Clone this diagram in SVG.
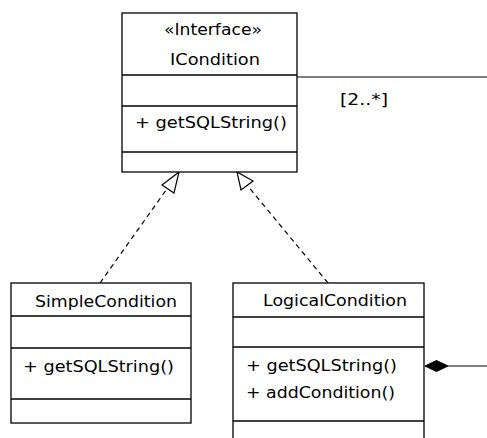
<svg xmlns="http://www.w3.org/2000/svg" width="487" height="438" viewBox="0 0 487 438">
<style>
.box{fill:#fff;stroke:#000;stroke-width:1.3}
.div{stroke:#000;stroke-width:1.3}
text{font-family:"DejaVu Sans","Liberation Sans",sans-serif;font-size:16.5px;fill:#000}
.c{text-anchor:middle}
.edge{fill:none;stroke:#000;stroke-width:1.2}
.dash{stroke-dasharray:5,4}
</style>
<rect width="487" height="438" fill="#fff"/>
<g id="connectors">
  <path class="edge" d="M297,77 H487"/>
  <text x="340" y="105" textLength="48" lengthAdjust="spacingAndGlyphs">[2..*]</text>
  <path class="edge" d="M448,366 H487"/>
  <polygon points="425,366 436.5,360.5 448,366 436.5,371.5" fill="#000" stroke="#000"/>
  <path class="edge dash" d="M100,283 L169,186"/>
  <polygon points="179,172 162,185 174,193" fill="#fff" stroke="#000" stroke-width="1.2"/>
  <path class="edge dash" d="M328,283 L247,185"/>
  <polygon points="237,172 241,190 253,181" fill="#fff" stroke="#000" stroke-width="1.2"/>
</g>
<g id="ICondition">
  <rect class="box" x="122" y="13" width="175" height="159"/>
  <line class="div" x1="122" y1="75" x2="297" y2="75"/>
  <line class="div" x1="122" y1="106" x2="297" y2="106"/>
  <line class="div" x1="122" y1="152" x2="297" y2="152"/>
  <text x="164" y="35" textLength="98" lengthAdjust="spacingAndGlyphs">«Interface»</text>
  <text x="170" y="65" textLength="90" lengthAdjust="spacingAndGlyphs">ICondition</text>
  <text x="135" y="128" textLength="152" lengthAdjust="spacingAndGlyphs">+ getSQLString()</text>
</g>
<g id="SimpleCondition">
  <rect class="box" x="11" y="283" width="180" height="140"/>
  <line class="div" x1="11" y1="316" x2="191" y2="316"/>
  <line class="div" x1="11" y1="348" x2="191" y2="348"/>
  <line class="div" x1="11" y1="399" x2="191" y2="399"/>
  <text x="35" y="307" textLength="142" lengthAdjust="spacingAndGlyphs">SimpleCondition</text>
  <text x="23" y="372" textLength="151" lengthAdjust="spacingAndGlyphs">+ getSQLString()</text>
</g>
<g id="LogicalCondition">
  <rect class="box" x="233" y="283" width="191" height="170"/>
  <line class="div" x1="233" y1="317" x2="424" y2="317"/>
  <line class="div" x1="233" y1="347" x2="424" y2="347"/>
  <line class="div" x1="233" y1="421" x2="424" y2="421"/>
  <text x="263" y="306" textLength="144" lengthAdjust="spacingAndGlyphs">LogicalCondition</text>
  <text x="246" y="371" textLength="151" lengthAdjust="spacingAndGlyphs">+ getSQLString()</text>
  <text x="246" y="398" textLength="149" lengthAdjust="spacingAndGlyphs">+ addCondition()</text>
</g>
</svg>
